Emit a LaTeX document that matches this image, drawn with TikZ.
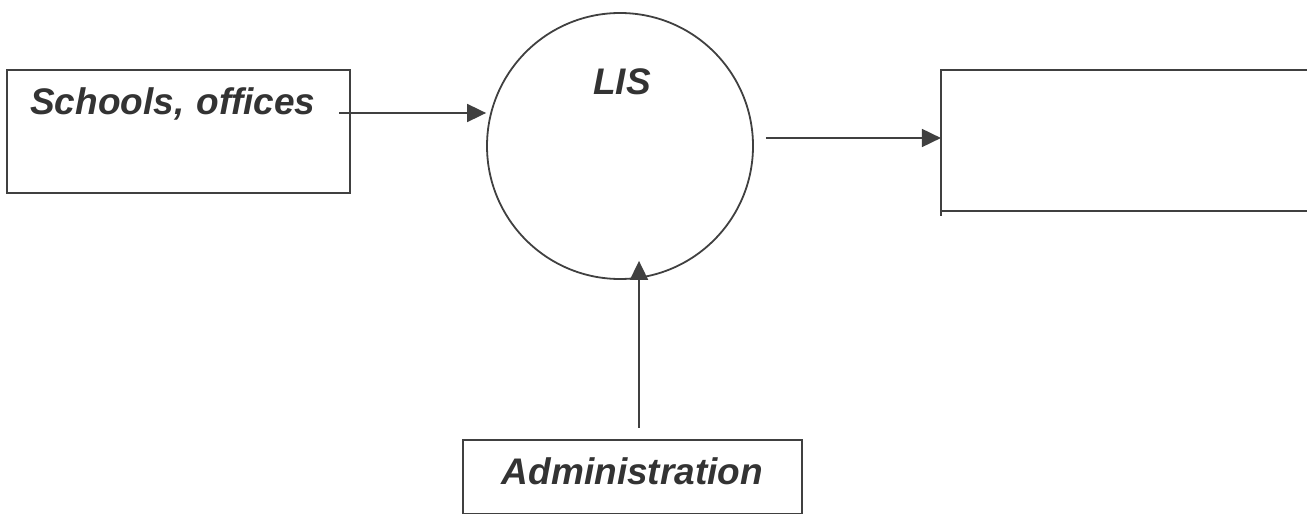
\documentclass[tikz,border=0pt]{standalone}
\usepackage{fontspec}
\setmainfont{Liberation Sans}
\usetikzlibrary{positioning,arrows.meta}

\tikzset{
  flow/.style={-{Triangle[length=9.5pt,width=9pt]},draw=black!75},
  txt/.style={font=\fontsize{18.5}{22}\selectfont\bfseries\itshape,text=black!80},
}

\begin{document}
\begin{tikzpicture}[x=0.5pt,y=-0.5pt,line width=0.9pt]
	\useasboundingbox (0,0) rectangle (1309,513);
	\node [draw=black!75,circle,minimum size=133pt,inner sep=0pt,
	       label={[txt,yshift=32pt,xshift=1pt]center:LIS}]               (lis)     at (620,146) {};
	\node [draw=black!75,txt,left=67.5pt of lis,yshift=7.25pt,align=left,
	       inner xsep=11.5pt,inner ysep=0pt,text width=148.5pt,
	       text height=22.5pt,text depth=39pt]                            (schools) {Schools, offices};
	\node [draw=black!75,txt,below=79.5pt of lis,xshift=6.25pt,minimum width=169.5pt,
	       inner ysep=0pt,text height=22.5pt,text depth=14.5pt]           (admin)   {Administration};
	\node [right=93.5pt of lis,yshift=2.75pt,minimum width=182pt,
	       minimum height=69.5pt,inner sep=0pt]                           (store)   {};
	
	\draw [draw=black!75] (store.north east) -- (store.north west) -- ([yshift=-2.5pt]store.south west);
	\draw [draw=black!75] (store.south west) -- (store.south east);
	
	\draw [flow] ([xshift=-6pt,yshift=9.25pt]schools.east) -- ([yshift=9.25pt]schools.east -| lis.west);
	\draw [flow] ([xshift=6pt,yshift=4pt]lis.east) -- ([yshift=4pt]lis.east -| store.west);
	\draw [flow] ([xshift=3.25pt,yshift=5.5pt]admin.north) -- ([xshift=3.25pt,yshift=9.5pt]admin.north |- lis.south);
\end{tikzpicture}
\end{document}
